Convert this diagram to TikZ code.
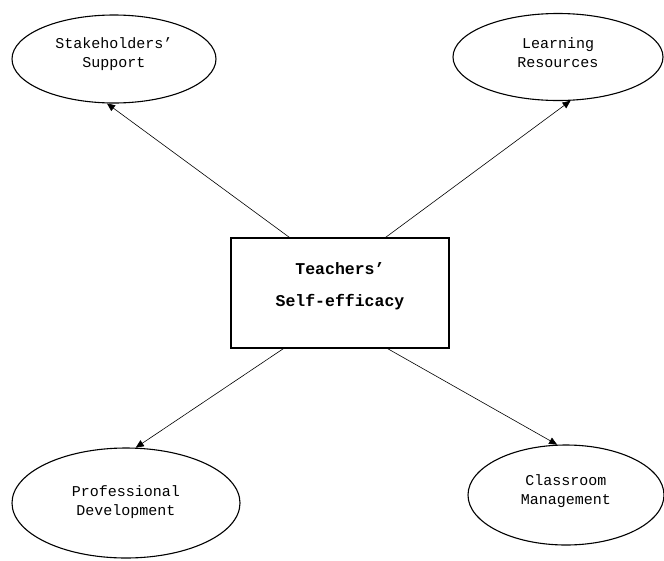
\documentclass[tikz,border=0pt]{standalone}
\usepackage{fontspec}
\setmonofont{Liberation Mono}
\usetikzlibrary{shapes.geometric,arrows.meta}
\begin{document}
\begin{tikzpicture}[x=1pt,y=-1pt,
  oval/.style={draw,ellipse,line width=1.1pt,inner sep=0pt},
  ovaltext/.style={align=center,inner sep=0pt,
    font=\ttfamily\fontsize{15}{19}\selectfont},
  centerbox/.style={draw,rectangle,line width=1.3pt,inner sep=0pt,
    minimum width=218pt,minimum height=110pt},
  link/.style={line width=0.6pt,-{Triangle[length=8pt,width=7pt]}}]
\useasboundingbox (0,0) rectangle (664,560);
\node[oval,minimum width=204pt,minimum height=88pt] (s1) at (114,59) {};
\node[ovaltext] (t1) at (114,54) {Stakeholders’\\Support};
\node[oval,minimum width=210pt,minimum height=87pt] (s2) at (558,57) {};
\node[ovaltext] (t2) at (558,53) {Learning\\Resources};
\node[oval,minimum width=228pt,minimum height=110pt] (s3) at (126,503) {};
\node[ovaltext] (t3) at (126,502) {Professional\\Development};
\node[oval,minimum width=196pt,minimum height=100pt] (s4) at (566,495) {};
\node[ovaltext] (t4) at (566,491) {Classroom\\Management};
\node[centerbox] (box) at (340,293) {};
\node[align=center,inner sep=0pt,font=\ttfamily\bfseries\fontsize{16.5}{32}\selectfont] (boxtext) at (340,286) {Teachers’\\Self-efficacy};
\draw[link] ([xshift=59pt]box.north west) -- (s1.261);
\draw[link] ([xshift=-64pt]box.north east) -- (s2.286);
\draw[link] ([xshift=53pt]box.south west) -- (s3.80);
\draw[link] ([xshift=-62pt]box.south east) -- (s4.100);
\end{tikzpicture}
\end{document}
